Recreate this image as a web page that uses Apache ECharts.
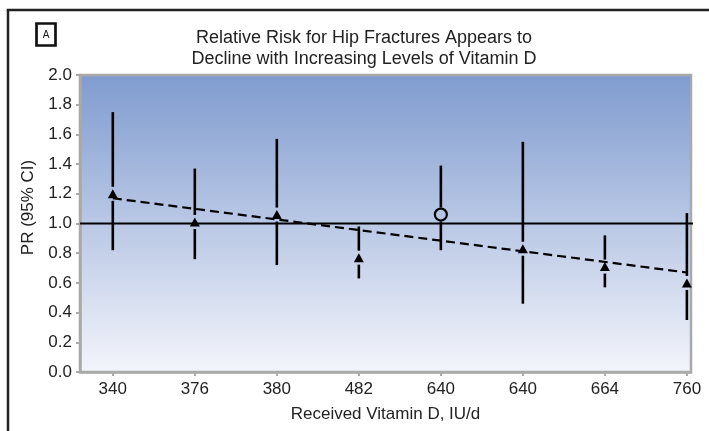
<!DOCTYPE html>
<html>
<head>
<meta charset="utf-8">
<script src="https://cdn.jsdelivr.net/npm/echarts@6/dist/echarts.min.js"></script>
<style>
  html, body { margin: 0; padding: 0; background: #fff; overflow: hidden; }
  #main { width: 709px; height: 431px; }
</style>
</head>
<body>
<!-- chart container -->
<div id="main"></div>
<script>
// data
var categories = ["340", "376", "380", "482", "640", "640", "664", "760"];
var estimates = [1.20, 1.01, 1.06, 0.77, 1.06, 0.83, 0.71, 0.60];
var ciLow = [0.82, 0.76, 0.72, 0.63, 0.82, 0.46, 0.57, 0.35];
var ciHigh = [1.75, 1.37, 1.57, 0.98, 1.39, 1.55, 0.92, 1.07];
var markerShapes = ["triangle", "triangle", "triangle", "triangle", "circle", "triangle", "triangle", "triangle"];
var trendStart = 1.17; // dashed trend at first category
var trendEnd = 0.67;   // dashed trend at last category
var refValue = 1.0;
var yMin = 0, yMax = 2, yStep = 0.2;

var font = '"Liberation Sans", Arial, sans-serif';
var xMin = -0.4, xMax = 7.05;
var catIndex = categories.map(function (c, i) { return i; });

var barData = categories.map(function (c, i) {
  return [i, ciLow[i], ciHigh[i], estimates[i]];
});
var pointData = categories.map(function (c, i) {
  var isCircle = markerShapes[i] === "circle";
  return {
    value: [i, estimates[i]],
    symbol: markerShapes[i],
    symbolSize: isCircle ? 12 : [10, 9],
    itemStyle: isCircle
      ? { color: "rgba(0,0,0,0)", borderColor: "#000", borderWidth: 2.2, opacity: 1 }
      : { color: "#000", opacity: 1 }
  };
});

// vertical CI bar, broken around the marker
function renderBar(params, api) {
  var i = api.value(0);
  var top = api.coord([i, api.value(2)]);
  var bot = api.coord([i, api.value(1)]);
  var mid = api.coord([i, api.value(3)]);
  var gap = 7;
  var style = { stroke: "#000", lineWidth: 2.6 };
  return {
    type: "group",
    children: [
      { type: "line", shape: { x1: top[0], y1: top[1], x2: mid[0], y2: mid[1] - gap }, style: style },
      { type: "line", shape: { x1: mid[0], y1: mid[1] + gap, x2: bot[0], y2: bot[1] }, style: style }
    ]
  };
}

var myChart = echarts.init(document.getElementById("main"));
myChart.setOption({
  animation: false,
  title: {
    text: "Relative Risk for Hip Fractures Appears to\nDecline with Increasing Levels of Vitamin D",
    left: 364,
    top: 28,
    padding: 0,
    textAlign: "center",
    textStyle: { fontFamily: font, fontSize: 18, fontWeight: "normal", color: "#222", lineHeight: 21 }
  },
  graphic: [
    // outer frame: top and left edges only
    { type: "line", shape: { x1: 6.75, y1: 10, x2: 709, y2: 10 }, style: { stroke: "#222", lineWidth: 2.5 } },
    { type: "line", shape: { x1: 8, y1: 10, x2: 8, y2: 431 }, style: { stroke: "#222", lineWidth: 2.5 } },
    { type: "rect", shape: { x: 36.5, y: 23.5, width: 19, height: 22 }, style: { stroke: "#111", lineWidth: 2.7, fill: "#fff" } },
    { type: "text", x: 46, y: 35, style: { text: "A", font: "10px " + font, fill: "#111", align: "center", verticalAlign: "middle" } }
  ],
  grid: {
    left: 80, right: 18, top: 75, bottom: 59,
    show: true,
    outerBoundsMode: "none",
    borderColor: "#a9a9a9",
    borderWidth: 2.5,
    backgroundColor: new echarts.graphic.LinearGradient(0, 0, 0, 1, [
      { offset: 0, color: "#7f9bcf" },
      { offset: 1, color: "#f4f5fb" }
    ])
  },
  xAxis: {
    type: "value",
    min: xMin,
    max: xMax,
    name: "Received Vitamin D, IU/d",
    nameLocation: "middle",
    nameGap: 34,
    nameTextStyle: { fontFamily: font, fontSize: 17, color: "#222" },
    axisLine: { onZero: false, lineStyle: { color: "#a9a9a9", width: 2.5 } },
    axisTick: { customValues: catIndex, length: 4, lineStyle: { color: "#a9a9a9", width: 2 } },
    axisLabel: {
      customValues: catIndex,
      margin: 9,
      fontFamily: font,
      fontSize: 17,
      color: "#222",
      formatter: function (v) { return categories[Math.round(v)]; }
    },
    splitLine: { show: false }
  },
  yAxis: {
    type: "value",
    min: yMin,
    max: yMax,
    interval: yStep,
    name: "PR (95% CI)",
    nameLocation: "middle",
    nameGap: 43,
    nameTextStyle: { fontFamily: font, fontSize: 17, color: "#222", padding: [0, 0, 0, 32] },
    axisLine: { show: true, onZero: false, lineStyle: { color: "#a9a9a9", width: 2.5 } },
    axisTick: { show: true, length: 4, lineStyle: { color: "#a9a9a9", width: 2 } },
    axisLabel: {
      margin: 8,
      fontFamily: font,
      fontSize: 17,
      color: "#222",
      formatter: function (v) { return v.toFixed(1); }
    },
    splitLine: { show: false }
  },
  series: [
    {
      // reference line at PR = 1.0
      type: "line",
      data: [[xMin, refValue], [7.14, refValue]],
      clip: false,
      symbol: "none",
      silent: true,
      lineStyle: { color: "#000", width: 2.2 },
      z: 2
    },
    {
      // dashed trend
      type: "line",
      data: [[0, trendStart], [categories.length - 1, trendEnd]],
      symbol: "none",
      silent: true,
      lineStyle: { color: "#000", width: 2.2, type: [9, 5] },
      z: 3
    },
    {
      type: "custom",
      renderItem: renderBar,
      data: barData,
      encode: { x: 0, y: [1, 2] },
      z: 4
    },
    {
      type: "scatter",
      data: pointData,
      z: 5
    }
  ]
});
</script>
</body>
</html>
